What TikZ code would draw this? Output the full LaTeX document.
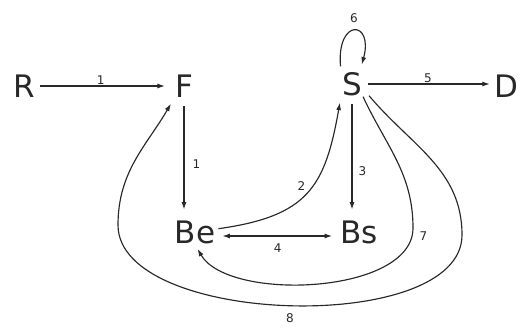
\documentclass[tikz,border=0pt]{standalone}
\usepackage{fontspec}
\setmainfont{DejaVu Sans}
\usepackage{xcolor}
\usetikzlibrary{arrows.meta}
\definecolor{flowink}{RGB}{40,40,40}
\tikzset{
 pnode/.style={font=\fontsize{31}{31}\selectfont, text=flowink,
        inner sep=1pt, text depth=0pt},
 elabel/.style={font=\fontsize{12}{12}\selectfont, text=flowink,
        inner sep=1pt},
 flow/.style={draw=flowink, line width=1.15pt,
        -{Latex[length=7.5pt,width=5pt]}},
 flow both/.style={flow,
        {Latex[length=7.5pt,width=5pt]}-{Latex[length=7.5pt,width=5pt]}},
}

\begin{document}
\begin{tikzpicture}[x=1pt,y=1pt]
\useasboundingbox (0,0) rectangle (521,-326);
% states, placed at their positions (y measured down from the top)
\foreach \n/\x/\y in {R/24/86, F/184/86, S/352/84, D/506/86, Be/195/232, Bs/359/232}{
 \node[pnode] (\n) at (\x,-\y) {\n};
}
% straight flows
\draw[flow, shorten <=4pt, shorten >=9pt] (R.east) -- node[elabel, above, pos=0.47] (l1a) {1} (F.west);
\draw[flow, shorten <=5pt, shorten >=3pt] (S.east) -- node[elabel, above] (l5) {5} (S.east -| D.west);
\draw[flow, shorten <=8pt, shorten >=10pt] (F.south) -- node[elabel, right=7pt, pos=0.54] (l1b) {1} (F.south |- Be.north);
\draw[flow, shorten <=7pt, shorten >=10pt] (S.south) -- node[elabel, right=5pt, pos=0.61] (l3) {3} (S.south |- Bs.north);
\draw[flow both, shorten <=6pt, shorten >=7pt] ([yshift=-4pt]Be.east) -- node[elabel, below=6pt] (l4) {4} ([yshift=-4pt]Bs.west);
% self loop on S
\draw[flow, shorten <=5pt, shorten >=7pt] (S.north west) to[out=95, in=75, looseness=7.2]
 node[elabel, above=8pt] (l6) {6} ([xshift=8pt]S.north);
% curved flows
\draw[flow, shorten <=2pt, shorten >=6pt] ([yshift=3pt]Be.east) to[out=8, in=-100, looseness=1.3]
 node[elabel, above left] (l2) {2} (S.south west);
\draw[flow, shorten >=5pt] (S.south east) to[out=-65, in=90] (413,-228)
 to[out=-90, in=-60, looseness=0.78] node[elabel, right=6pt, pos=0.04] (l7) {7} (Be.south);
\draw[flow, shorten >=6pt] ([shift={(6pt,1pt)}]S.south east) to[out=-50, in=90] (462,-235)
 to[out=-90, in=-90, looseness=0.75] node[elabel, below=6pt] (l8) {8} (118,-225)
 to[out=90, in=-120] (F.south west);
\end{tikzpicture}
\end{document}
